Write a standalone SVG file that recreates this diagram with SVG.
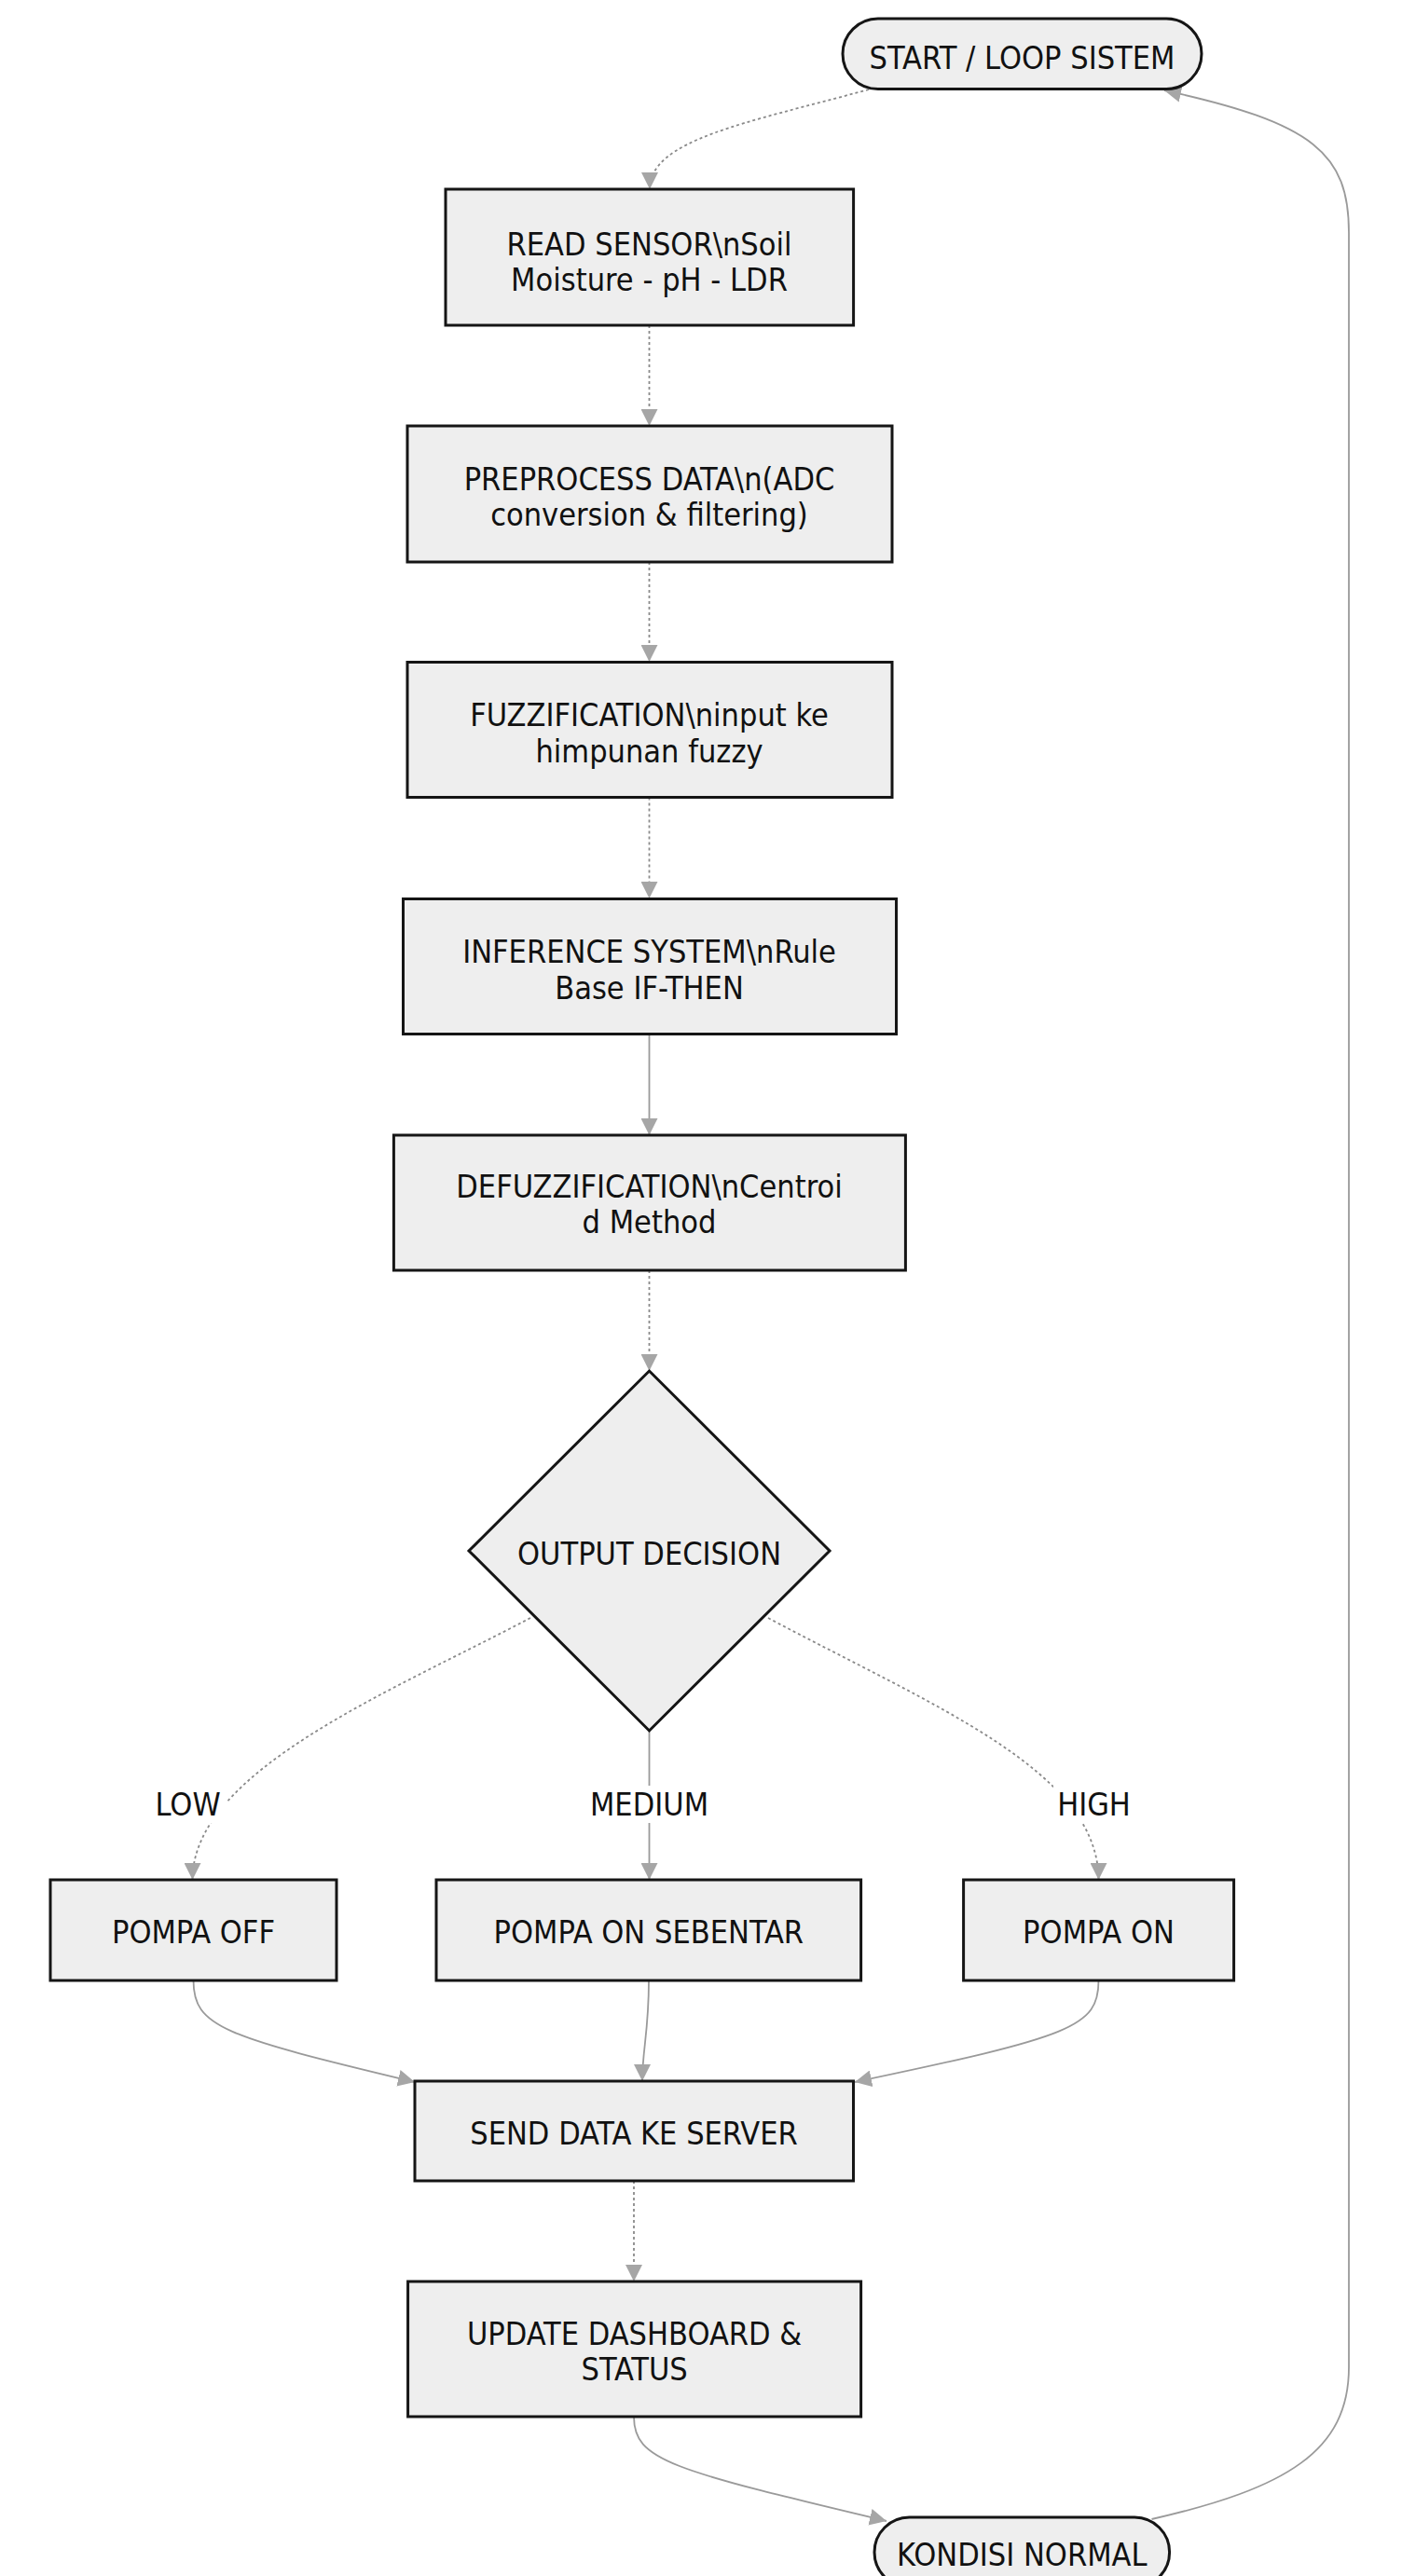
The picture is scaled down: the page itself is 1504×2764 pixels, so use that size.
<svg xmlns="http://www.w3.org/2000/svg" width="1504" height="2764" viewBox="0 0 1504 2764">
<style>
.node rect, .node polygon { fill: #eeeeee; stroke: #151515; stroke-width: 3; }
.node text, .lbl { font-family: "DejaVu Sans Condensed", "DejaVu Sans", sans-serif; font-stretch: condensed; font-size: 34px; fill: #111111; text-anchor: middle; }
.c { fill: none; stroke: #9a9a9a; stroke-width: 1.8; }
.d { fill: none; stroke: #8a8a8a; stroke-width: 1.8; stroke-dasharray: 3 3; }
.lblbg { fill: #ffffff; }
</style>
<defs>
<marker id="ah" viewBox="0 0 10 10" refX="10" refY="5" markerWidth="18" markerHeight="18" markerUnits="userSpaceOnUse" orient="auto">
<path d="M0,0 L10,5 L0,10 z" fill="#a6a6a6"/>
</marker>
</defs>
<rect width="1504" height="2764" fill="#ffffff"/>

<g id="connectors">
<path class="d" d="M932,96 C800,132 697,150 697,203" marker-end="url(#ah)"/>
<path class="d" d="M696.5,349 L696.5,457" marker-end="url(#ah)"/>
<path class="d" d="M696.5,603 L696.5,710" marker-end="url(#ah)"/>
<path class="d" d="M696.5,855.5 L696.5,964" marker-end="url(#ah)"/>
<path class="c" d="M696.5,1109.5 L696.5,1218" marker-end="url(#ah)"/>
<path class="d" d="M696.5,1363 L696.5,1471" marker-end="url(#ah)"/>
<path class="d" d="M569,1736 C420,1815 206.5,1900 206.5,2017" marker-end="url(#ah)"/>
<path class="c" d="M696.5,1857 L696.5,2017" marker-end="url(#ah)"/>
<path class="d" d="M824,1736 C1000,1830 1178.5,1900 1178.5,2017" marker-end="url(#ah)"/>
<path class="c" d="M207.5,2125 C207.5,2175 240,2185 445,2234" marker-end="url(#ah)"/>
<path class="c" d="M696,2125 C696,2180 689,2200 689,2233" marker-end="url(#ah)"/>
<path class="c" d="M1178.5,2125 C1178.5,2175 1150,2185 917,2234" marker-end="url(#ah)"/>
<path class="d" d="M680,2340 L680,2448" marker-end="url(#ah)"/>
<path class="c" d="M680,2593 C680,2640 720,2650 951,2705" marker-end="url(#ah)"/>
<path class="c" d="M1235.5,2703 C1380,2670 1447,2630 1447,2540 L1447,250 C1447,165 1410,132 1249,97" marker-end="url(#ah)"/>
<rect class="lblbg" x="160" y="1916" width="84" height="40"/>
<text class="lbl" x="201.6" y="1948">LOW</text>
<rect class="lblbg" x="626" y="1916" width="141" height="40"/>
<text class="lbl" x="696.5" y="1948">MEDIUM</text>
<rect class="lblbg" x="1130" y="1916" width="87" height="40"/>
<text class="lbl" x="1173.5" y="1948">HIGH</text>
</g>

<g id="node-start" class="node">
<rect x="904" y="20" width="385" height="75.6" rx="37.8" ry="37.8"/>
<text x="1096.5" y="74">START / LOOP SISTEM</text>
</g>
<g id="node-read" class="node">
<rect x="478" y="203" width="437.6" height="146"/>
<text x="696.5" y="274">READ SENSOR\nSoil</text>
<text x="696.5" y="312">Moisture - pH - LDR</text>
</g>
<g id="node-preprocess" class="node">
<rect x="437" y="457" width="520" height="146"/>
<text x="696.5" y="526">PREPROCESS DATA\n(ADC</text>
<text x="696.5" y="564">conversion &amp; filtering)</text>
</g>
<g id="node-fuzzification" class="node">
<rect x="437" y="710.5" width="520" height="145"/>
<text x="696.5" y="779">FUZZIFICATION\ninput ke</text>
<text x="696.5" y="818">himpunan fuzzy</text>
</g>
<g id="node-inference" class="node">
<rect x="432.5" y="964.5" width="529" height="145"/>
<text x="696.5" y="1033">INFERENCE SYSTEM\nRule</text>
<text x="696.5" y="1072">Base IF-THEN</text>
</g>
<g id="node-defuzzification" class="node">
<rect x="422.4" y="1218" width="549" height="145"/>
<text x="696.5" y="1285">DEFUZZIFICATION\nCentroi</text>
<text x="696.5" y="1323">d Method</text>
</g>
<g id="node-decision" class="node">
<polygon points="696.5,1471 890,1664 696.5,1857 503,1664"/>
<text x="696.5" y="1679">OUTPUT DECISION</text>
</g>
<g id="node-pompa-off" class="node">
<rect x="54" y="2017" width="307" height="108"/>
<text x="207.5" y="2085">POMPA OFF</text>
</g>
<g id="node-pompa-sebentar" class="node">
<rect x="468" y="2017" width="455.6" height="108"/>
<text x="695.8" y="2085">POMPA ON SEBENTAR</text>
</g>
<g id="node-pompa-on" class="node">
<rect x="1033.6" y="2017" width="290" height="108"/>
<text x="1178.5" y="2085">POMPA ON</text>
</g>
<g id="node-send" class="node">
<rect x="445" y="2233" width="470.5" height="107"/>
<text x="680" y="2301">SEND DATA KE SERVER</text>
</g>
<g id="node-update" class="node">
<rect x="437.6" y="2448" width="486" height="145"/>
<text x="680.6" y="2516">UPDATE DASHBOARD &amp;</text>
<text x="680.6" y="2554">STATUS</text>
</g>
<g id="node-kondisi" class="node">
<rect x="938" y="2701" width="316.6" height="75" rx="37.5" ry="37.5"/>
<text x="1096.3" y="2753">KONDISI NORMAL</text>
</g>
</svg>
